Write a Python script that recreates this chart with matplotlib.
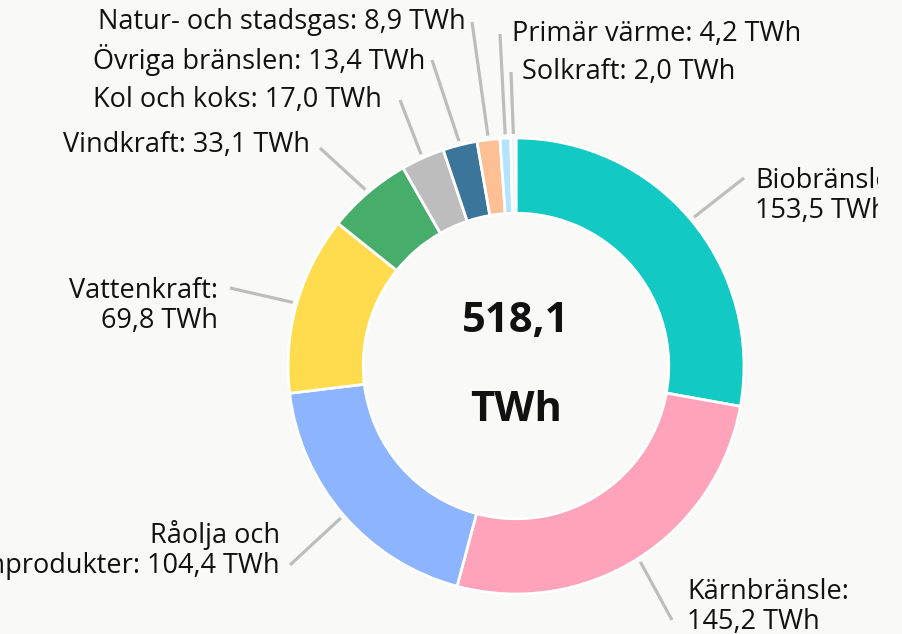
import numpy as np
import matplotlib.pyplot as plt
from matplotlib.patches import Rectangle

plt.rcParams['font.family'] = ['Open Sans', 'DejaVu Sans']

# Data (TWh), clockwise from 12 o'clock
labels = ['Biobränsle:\n153,5 TWh', 'Kärnbränsle:\n145,2 TWh',
          'Råolja och\npetroleumprodukter: 104,4 TWh', 'Vattenkraft:\n69,8 TWh',
          'Vindkraft: 33,1 TWh', 'Kol och koks: 17,0 TWh', 'Övriga bränslen: 13,4 TWh',
          'Natur- och stadsgas: 8,9 TWh', 'Primär värme: 4,2 TWh', 'Solkraft: 2,0 TWh']
values = [153.5, 145.2, 104.4, 69.8, 33.1, 17.0, 13.4, 8.9, 4.2, 2.0]
colors = ['#12C9C3', '#FFA3BB', '#8CB4FF', '#FFDC4E', '#46AE6A', '#BDBDBD',
          '#3B7599', '#FFBF94', '#B3E3FF', '#EEF3F5']
total_label = '518,1\n\nTWh'

# Layout (pixel coords, y measured from top)
W, H = 903, 634
CX, CY, R = 516, 366, 228
RING = 0.33
# label anchor (x, y, ha) and leader line end point
label_pos = [(755, 196, 'left'), (687, 607, 'left'), (280, 550, 'right'),
             (218, 306, 'right'), (310, 145, 'right'), (382, 100, 'right'),
             (425, 60, 'right'), (466, 22, 'right'), (512, 34, 'left'),
             (522, 72, 'left')]
line_end = [(744, 178), (672, 620), (290, 565), (230, 288), (320, 148),
            (400, 100), (432, 60), (472, 22), (500, 34), (511, 72)]

bg = '#F9F9F7'
fig = plt.figure(figsize=(W / 100, H / 100), dpi=100, facecolor=bg)
ax = fig.add_axes([0, 0, 1, 1])
ax.set_facecolor(bg)

ax.pie(values, colors=colors, startangle=90, counterclock=False,
       center=(CX, H - CY), radius=R,
       wedgeprops=dict(width=R * RING, edgecolor='white', linewidth=2))

ax.set_xlim(0, W)
ax.set_ylim(0, H)
ax.set_aspect('equal')
ax.axis('off')

clip = Rectangle((0, 0), 878, H, transform=ax.transData)
cum = np.cumsum([0] + values[:-1])
tot = sum(values)
for i, (lab, v) in enumerate(zip(labels, values)):
    mid = np.deg2rad((cum[i] + v / 2) / tot * 360)
    x0 = CX + (R + 4) * np.sin(mid)
    y0 = CY - (R + 4) * np.cos(mid)
    x1, y1 = line_end[i]
    ax.plot([x0, x1], [H - y0, H - y1], color='#BDBDBD', lw=2.3,
            solid_capstyle='butt', zorder=1)
    tx, ty, ha = label_pos[i]
    t = ax.text(tx, H - ty, lab, ha=ha, va='center', fontsize=19.5,
                color='#111111', linespacing=1.05, clip_on=True)
    t.set_clip_path(clip)

ax.text(CX, H - 366, total_label, ha='center', va='center', fontsize=30,
        fontweight='bold', color='#111111', linespacing=1.1)

fig.savefig('out.png', dpi=100, facecolor=bg)
